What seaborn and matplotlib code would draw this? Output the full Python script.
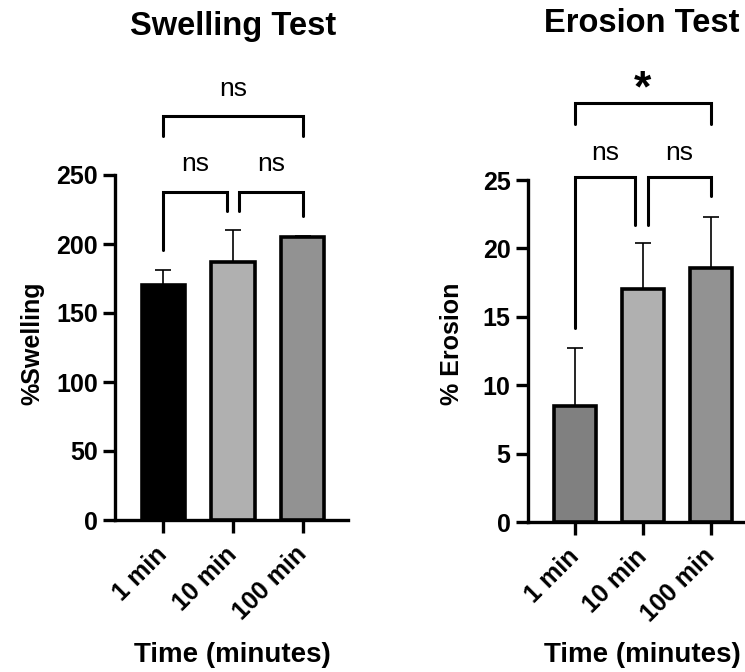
import matplotlib
matplotlib.use("Agg")
import matplotlib.pyplot as plt
import seaborn as sns
import pandas as pd

times = ["1 min", "10 min", "100 min"]

swelling_mean = [170, 187, 205]
swelling_sd = [11, 23, 1]
swelling_colors = ["#000000", "#b0b0b0", "#929292"]

erosion_mean = [8.5, 17.0, 18.6]
erosion_sd = [4.2, 3.4, 3.7]
erosion_colors = ["#808080", "#b0b0b0", "#929292"]

# brackets: (x1, x2, top, left leg end, right leg end, label, label y)
swelling_brackets = [(0, 0.91, 238, 196, 224, "ns", 258),
                     (1.09, 2, 238, 224, 220, "ns", 258),
                     (0, 2, 293, 278, 278, "ns", 312)]
erosion_brackets = [(0, 0.88, 25.2, 14.2, 21.7, "ns", 27.0),
                    (1.07, 2, 25.2, 21.7, 23.8, "ns", 27.0),
                    (0, 2, 30.6, 29.1, 29.1, "*", 31.6)]

sns.set_style("ticks")
plt.rcParams['font.family'] = ['Liberation Sans', 'DejaVu Sans']
plt.rcParams['font.weight'] = 'bold'
plt.rcParams.update({"text.color": "black", "axes.labelcolor": "black",
                     "xtick.color": "black", "ytick.color": "black",
                     "axes.edgecolor": "black"})


def draw_panel(ax, means, sds, colors, brackets, ylim, yticks, xlim):
    df = pd.DataFrame({"time": times, "value": means})
    sns.barplot(data=df, x="time", y="value", hue="time", palette=colors, legend=False,
                errorbar=None, width=0.62, linewidth=2.6, edgecolor="black", ax=ax, zorder=3)
    ax.errorbar(range(len(means)), means, yerr=[[0] * len(sds), sds], fmt="none",
                ecolor="black", elinewidth=1.2, capsize=6, capthick=1.2, zorder=2)
    ax.set_ylim(*ylim)
    ax.set_yticks(yticks)
    ax.set_xlim(*xlim)
    for side in ["top", "right"]:
        ax.spines[side].set_visible(False)
    for side in ["left", "bottom"]:
        ax.spines[side].set_linewidth(2.4)
        ax.spines[side].set_color("black")
    ax.tick_params(width=2.4, length=9, labelsize=18, colors="black")
    ax.tick_params(axis="x", pad=13)
    for lab in ax.get_yticklabels():
        lab.set_fontweight("bold")
    ax.set_xticks(range(len(times)))
    ax.set_xticklabels(times, rotation=45, ha="right", va="center",
                       rotation_mode="anchor", fontweight="bold", fontsize=18)
    ax.set_xlabel("")
    ax.set_ylabel("")
    for x1, x2, top, l1, l2, txt, ty in brackets:
        ax.plot([x1, x1, x2, x2], [l1, top, top, l2], color="black", lw=2.2,
                clip_on=False, solid_joinstyle="miter")
        if txt == "*":
            ax.text((x1 + x2) / 2, ty, txt, ha="center", va="center",
                    fontsize=32, fontweight="bold")
        else:
            ax.text((x1 + x2) / 2, ty, txt, ha="center", va="center",
                    fontsize=19, fontweight="normal")


fig = plt.figure(figsize=(7.45, 6.72), dpi=100)
ax1 = fig.add_axes([115 / 745, 1 - 520 / 672, 233 / 745, 345 / 672])
ax2 = fig.add_axes([528 / 745, 1 - 522 / 672, 217 / 745, 342 / 672])

draw_panel(ax1, swelling_mean, swelling_sd, swelling_colors, swelling_brackets,
           (0, 250), [0, 50, 100, 150, 200, 250], (-0.69, 2.65))
draw_panel(ax2, erosion_mean, erosion_sd, erosion_colors, erosion_brackets,
           (0, 25), [0, 5, 10, 15, 20, 25], (-0.69, 2.5))

fig.text(233 / 745, 1 - 26 / 672, "Swelling Test", ha="center", va="center",
         fontsize=23.5, fontweight="bold")
fig.text(642 / 745, 1 - 23 / 672, "Erosion Test", ha="center", va="center",
         fontsize=23.5, fontweight="bold")
fig.text(232 / 745, 1 - 655 / 672, "Time (minutes)", ha="center", va="center",
         fontsize=20, fontweight="bold")
fig.text(642 / 745, 1 - 655 / 672, "Time (minutes)", ha="center", va="center",
         fontsize=20, fontweight="bold")
fig.text(32 / 745, 1 - 343 / 672, "%Swelling", ha="center", va="center",
         rotation=90, fontsize=18, fontweight="bold")
fig.text(452 / 745, 1 - 344 / 672, "% Erosion", ha="center", va="center",
         rotation=90, fontsize=18, fontweight="bold")

fig.savefig("out.png", dpi=100)
